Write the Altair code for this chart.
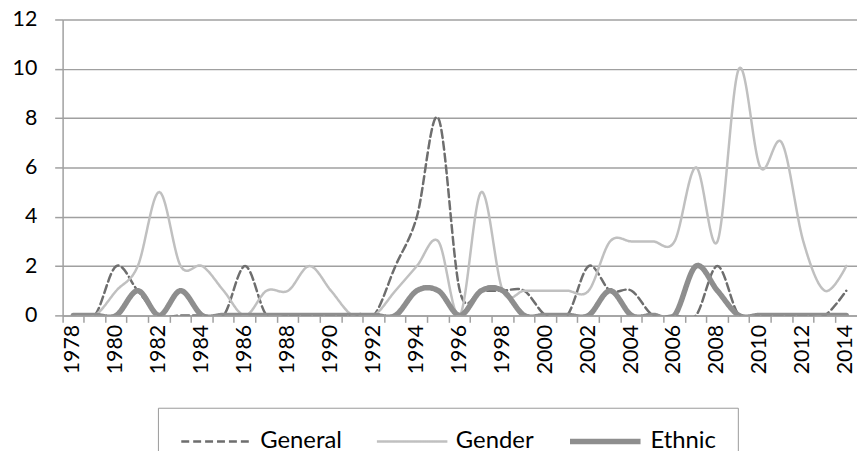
import altair as alt
import pandas as pd

years = list(range(1978, 2015))
series_names = ["General", "Gender", "Ethnic"]

general = [0, 0, 2, 1, 0, 0, 0, 0, 2, 0, 0, 0, 0, 0, 0, 2, 4, 8, 1, 1, 1, 1, 0, 0,
           2, 1, 1, 0, 0, 0, 2, 0, 0, 0, 0, 0, 1]
gender = [0, 0, 1, 2, 5, 2, 2, 1, 0, 1, 1, 2, 1, 0, 0, 1, 2, 3, 0, 5, 1, 1, 1, 1,
          1, 3, 3, 3, 3, 6, 3, 10, 6, 7, 3, 1, 2]
ethnic = [0, 0, 0, 1, 0, 1, 0, 0, 0, 0, 0, 0, 0, 0, 0, 0, 1, 1, 0, 1, 1, 0, 0, 0,
          0, 1, 0, 0, 0, 2, 1, 0, 0, 0, 0, 0, 0]

y_ticks = [0, 2, 4, 6, 8, 10, 12]

rows = []
for name, vals in zip(series_names, [general, gender, ethnic]):
    for yr, v in zip(years, vals):
        rows.append({"year": yr, "value": v, "series": name})
df = pd.DataFrame(rows)

FONT = "Lato"
GRID = "#a0a0a0"

legend = alt.Legend(
    orient="none", legendX=96, legendY=391, direction="horizontal", title=None,
    symbolType="stroke", symbolSize=5041, clipHeight=24, padding=22,
    strokeColor="#9a9a9a", fillColor="white",
    labelFont=FONT, labelFontSize=24, labelColor="black", labelOffset=7,
    columnPadding=33,
)

enc = dict(
    x=alt.X("year:O", bandPosition=0.5,
            scale=alt.Scale(type="band", paddingInner=0, paddingOuter=0),
            axis=alt.Axis(title=None, bandPosition=0, labelAngle=270,
                          labelExpr="datum.value % 2 == 0 ? datum.label : ''",
                          tickSize=7, labelPadding=2, tickColor=GRID, domainColor=GRID,
                          domainWidth=1.5, tickWidth=1.5, grid=False,
                          labelFont=FONT, labelFontSize=21.5, labelColor="black")),
    y=alt.Y("value:Q", scale=alt.Scale(domain=[0, 12], nice=False, zero=True),
            axis=alt.Axis(title=None, values=y_ticks, tickSize=8, labelPadding=18,
                          grid=True, gridColor=GRID, gridWidth=1.5, tickColor=GRID,
                          tickWidth=1.5, domainColor=GRID, domainWidth=1.5,
                          labelFont=FONT, labelFontSize=21.5, labelColor="black")),
    color=alt.Color("series:N", scale=alt.Scale(domain=series_names,
                    range=["#6e6e6e", "#c0c0c0", "#8e8e8e"]), legend=legend),
    strokeDash=alt.StrokeDash("series:N", scale=alt.Scale(domain=series_names,
                              range=[[8, 4], [1, 0], [1, 0]]), legend=legend),
    strokeWidth=alt.StrokeWidth("series:N", scale=alt.Scale(type="ordinal",
                                domain=series_names, range=[2.5, 2.5, 5.5]),
                                legend=legend),
)

layers = [
    alt.Chart(df).transform_filter(alt.datum.series == s)
    .mark_line(interpolate="cardinal", tension=0, strokeCap="round", clip=True)
    .encode(**enc)
    for s in series_names
]

chart = alt.layer(*layers).properties(
    width=800, height=298,
    autosize=alt.AutoSizeParams(type="none"),
    padding={"left": 55, "top": 10, "right": 0, "bottom": 135},
    background="white",
).configure_view(stroke=None)

chart.save("out.html", embed_options={"renderer": "svg", "actions": False})
